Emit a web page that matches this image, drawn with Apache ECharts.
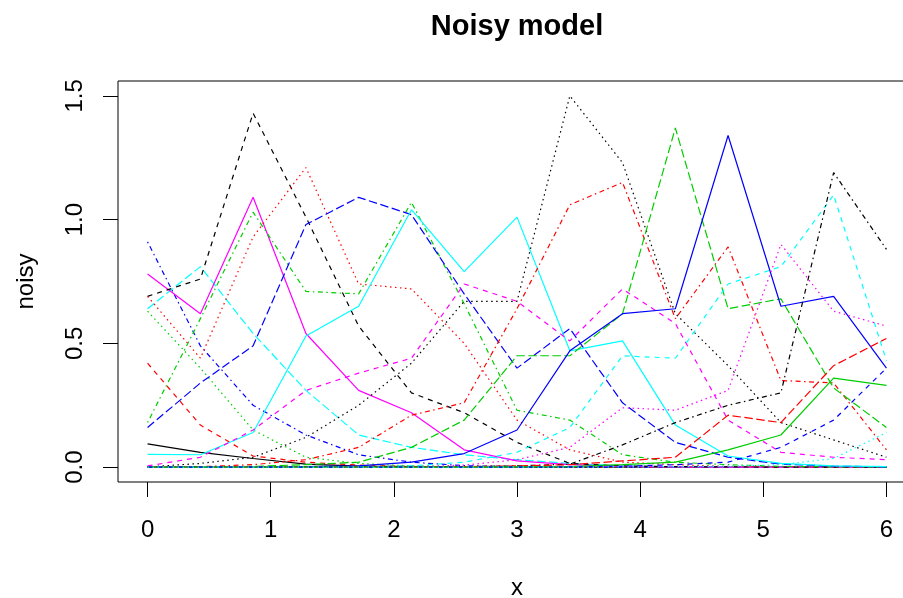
<!DOCTYPE html>
<html><head><meta charset="utf-8">
<script src="https://cdn.jsdelivr.net/npm/echarts@6/dist/echarts.min.js"></script>
<style>html,body{margin:0;padding:0;background:#fff;overflow:hidden}#chart{width:903px;height:598px}</style>
</head><body><div id="chart"></div>
<script>
// ---- data ----
const xValues = [0, 0.429, 0.857, 1.286, 1.714, 2.143, 2.571, 3, 3.429, 3.857, 4.286, 4.714, 5.143, 5.571, 6];
const xTicks = [0, 1, 2, 3, 4, 5, 6];
const yTicks = [0, 0.5, 1.0, 1.5];

const s01 = [0.094, 0.06, 0.035, 0.012, 0.004, 0.002, 0.001, 0, 0, 0, 0, 0, 0, 0, 0];
const s02 = [0.42, 0.17, 0.045, 0.02, 0.008, 0.003, 0.001, 0, 0, 0, 0, 0, 0, 0, 0];
const s03 = [0.63, 0.40, 0.15, 0.04, 0.015, 0.005, 0.002, 0.001, 0, 0, 0, 0, 0, 0, 0];
const s04 = [0.91, 0.49, 0.25, 0.13, 0.05, 0.02, 0.006, 0.002, 0.001, 0, 0, 0, 0, 0, 0];
const s05 = [0.64, 0.81, 0.54, 0.31, 0.13, 0.08, 0.05, 0.03, 0.015, 0.005, 0.002, 0.001, 0, 0, 0];
const s06 = [0.78, 0.62, 1.09, 0.54, 0.31, 0.22, 0.07, 0.025, 0.01, 0.003, 0.001, 0, 0, 0, 0];
const s07 = [0.69, 0.76, 1.43, 1.01, 0.57, 0.30, 0.22, 0.10, 0.015, 0.005, 0.002, 0.001, 0, 0, 0];
const s08 = [0.69, 0.44, 0.93, 1.21, 0.74, 0.72, 0.50, 0.19, 0.07, 0.02, 0.01, 0.003, 0.001, 0, 0];
const s09 = [0.18, 0.60, 1.03, 0.71, 0.70, 1.07, 0.66, 0.23, 0.19, 0.05, 0.02, 0.01, 0.003, 0.001, 0];
const s10 = [0.16, 0.34, 0.49, 0.98, 1.09, 1.02, 0.70, 0.40, 0.56, 0.26, 0.10, 0.04, 0.012, 0.004, 0.001];
const s11 = [0.052, 0.05, 0.14, 0.53, 0.65, 1.04, 0.79, 1.01, 0.47, 0.51, 0.17, 0.045, 0.015, 0.005, 0.002];
const s12 = [0.005, 0.04, 0.15, 0.31, 0.38, 0.44, 0.74, 0.67, 0.51, 0.72, 0.58, 0.19, 0.06, 0.04, 0.03];
const s13 = [0.001, 0.015, 0.04, 0.12, 0.25, 0.42, 0.67, 0.67, 1.50, 1.23, 0.62, 0.41, 0.18, 0.11, 0.04];
const s14 = [0, 0.002, 0.01, 0.03, 0.08, 0.21, 0.26, 0.64, 1.06, 1.15, 0.60, 0.89, 0.35, 0.34, 0.07];
const s15 = [0, 0, 0.003, 0.01, 0.02, 0.08, 0.19, 0.45, 0.45, 0.62, 1.37, 0.64, 0.68, 0.32, 0.16];
const s16 = [0, 0, 0, 0.002, 0.005, 0.02, 0.055, 0.15, 0.47, 0.62, 0.64, 1.34, 0.65, 0.69, 0.40];
const s17 = [0, 0, 0, 0, 0.002, 0.005, 0.02, 0.06, 0.16, 0.45, 0.44, 0.74, 0.81, 1.10, 0.43];
const s18 = [0, 0, 0, 0, 0, 0.002, 0.008, 0.03, 0.08, 0.24, 0.23, 0.31, 0.90, 0.63, 0.57];
const s19 = [0, 0, 0, 0, 0, 0, 0.002, 0.005, 0.012, 0.09, 0.18, 0.25, 0.30, 1.19, 0.88];
const s20 = [0, 0, 0, 0, 0, 0, 0.002, 0.005, 0.01, 0.025, 0.04, 0.21, 0.18, 0.41, 0.52];
const s21 = [0, 0, 0, 0, 0, 0, 0, 0.001, 0.002, 0.01, 0.02, 0.07, 0.13, 0.36, 0.33];
const s22 = [0, 0, 0, 0, 0, 0, 0, 0, 0.001, 0.004, 0.01, 0.02, 0.08, 0.19, 0.40];
const s23 = [0, 0, 0, 0, 0, 0, 0, 0, 0, 0.001, 0.002, 0.004, 0.01, 0.035, 0.14];

const seriesValues = [s01, s02, s03, s04, s05, s06, s07, s08, s09, s10, s11, s12,
                      s13, s14, s15, s16, s17, s18, s19, s20, s21, s22, s23];

// ---- styles (R matplot defaults: col 1:6, lty 1:5) ----
const palette = ['#000000', '#FF0000', '#00CD00', '#0000FF', '#00FFFF', '#FF00FF'];
const dashes = ['solid', [5, 5], [1.5, 3.5], [1.5, 3.5, 5, 3.5], [8.5, 3.5]];
const FONT = "'Liberation Sans', Arial, Helvetica, sans-serif";

const series = seriesValues.map((vals, i) => ({
  type: 'line',
  name: 'V' + (i + 1),
  data: vals.map((v, k) => [xValues[k], v]),
  symbol: 'none',
  silent: true,
  lineStyle: { color: palette[i % 6], width: 1.2, type: dashes[i % 5] },
  emphasis: { disabled: true }
}));

const chart = echarts.init(document.getElementById('chart'), null, { renderer: 'canvas' });
chart.setOption({
  animation: false,
  backgroundColor: '#ffffff',
  title: {
    text: 'Noisy model',
    left: 517, top: 12, padding: 0, textAlign: 'center',
    textStyle: { fontFamily: FONT, fontWeight: 'bold', fontSize: 29, color: '#000' }
  },
  grid: {
    left: 118, top: 81, width: 798, height: 401,
    outerBoundsMode: 'none', containLabel: false,
    show: true, borderColor: '#000', borderWidth: 1, backgroundColor: 'transparent'
  },
  xAxis: {
    type: 'value', min: -0.24, max: 6.24,
    name: 'x', nameLocation: 'middle', nameGap: 94,
    nameTextStyle: { fontFamily: FONT, fontSize: 24, color: '#000' },
    axisLine: { show: false, onZero: false },
    splitLine: { show: false },
    axisTick: { show: true, customValues: xTicks, length: 15, lineStyle: { color: '#000', width: 1 } },
    axisLabel: { customValues: xTicks, formatter: v => String(v), margin: 36, fontFamily: FONT, fontSize: 24, color: '#000' }
  },
  yAxis: {
    type: 'value', min: -0.06, max: 1.56,
    name: 'noisy', nameLocation: 'middle', nameRotate: 90, nameGap: 80,
    nameTextStyle: { fontFamily: FONT, fontSize: 24, color: '#000' },
    axisLine: { show: false, onZero: false },
    splitLine: { show: false },
    axisTick: { show: true, customValues: yTicks, length: 15, lineStyle: { color: '#000', width: 1 } },
    axisLabel: { customValues: yTicks, formatter: v => v.toFixed(1), rotate: 90, margin: 31, fontFamily: FONT, fontSize: 24, color: '#000' }
  },
  series: series
});
</script>
</body></html>
